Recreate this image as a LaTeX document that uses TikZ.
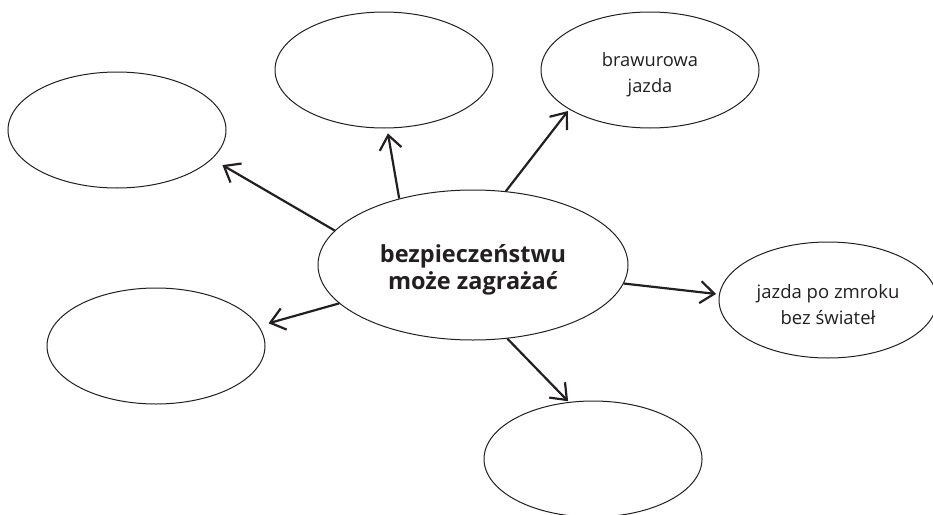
\documentclass[tikz,border=0pt]{standalone}
\usepackage{fontspec}
\setmainfont{Open Sans}
\usetikzlibrary{shapes.geometric,arrows.meta}
\definecolor{ink}{HTML}{231F20}
\newcommand\liftA{\rule{0pt}{24pt}}
\newcommand\liftB{\rule{0pt}{28pt}}
\begin{document}
\begin{tikzpicture}[x=1pt,y=-1pt,
  bubble/.style={draw=ink,line width=1pt,ellipse,minimum width=218pt,minimum height=116pt,inner sep=0pt,text=ink,align=center,font=\fontsize{18.3}{26}\selectfont},
  hub/.style={draw=ink,line width=1pt,ellipse,minimum width=310pt,minimum height=150pt,inner sep=0pt,text=ink,align=center,font=\bfseries\fontsize{23.5}{27}\selectfont},
  link/.style={draw=ink,line width=2.2pt,-{Straight Barb[length=14pt,width=22pt,line width=2.2pt]}}]
\useasboundingbox (0,0) rectangle (933,514);
\node[hub] (c) at (473,265) {\liftB bezpieczeństwu\\może zagrażać};
\node[bubble] (tl) at (117,130) {};
\node[bubble] (tm) at (384,70) {};
\node[bubble] (tr) at (650,70) {\liftA brawurowa\\jazda};
\node[bubble,font=\fontsize{18.5}{26}\selectfont] (r) at (828,300) {\liftA jazda po zmroku\\bez świateł};
\node[bubble] (l) at (156,346) {};
\node[bubble] (b) at (593,459) {};
\draw[link,shorten >=12pt] (c.166.7) -- (tl.-17.8);
\draw[link,shorten >=5pt] (c.138.2) -- (tm.-87.3);
\draw[link,shorten >=2pt] (c.66.9) -- (tr.-154);
\draw[link,shorten >=3pt] (c.-7.5) -- (r.177);
\draw[link,shorten >=10pt] (c.-164.1) -- (l.11.6);
\draw[link,shorten >=1pt] (c.-65) -- (b.113.7);
\end{tikzpicture}
\end{document}
